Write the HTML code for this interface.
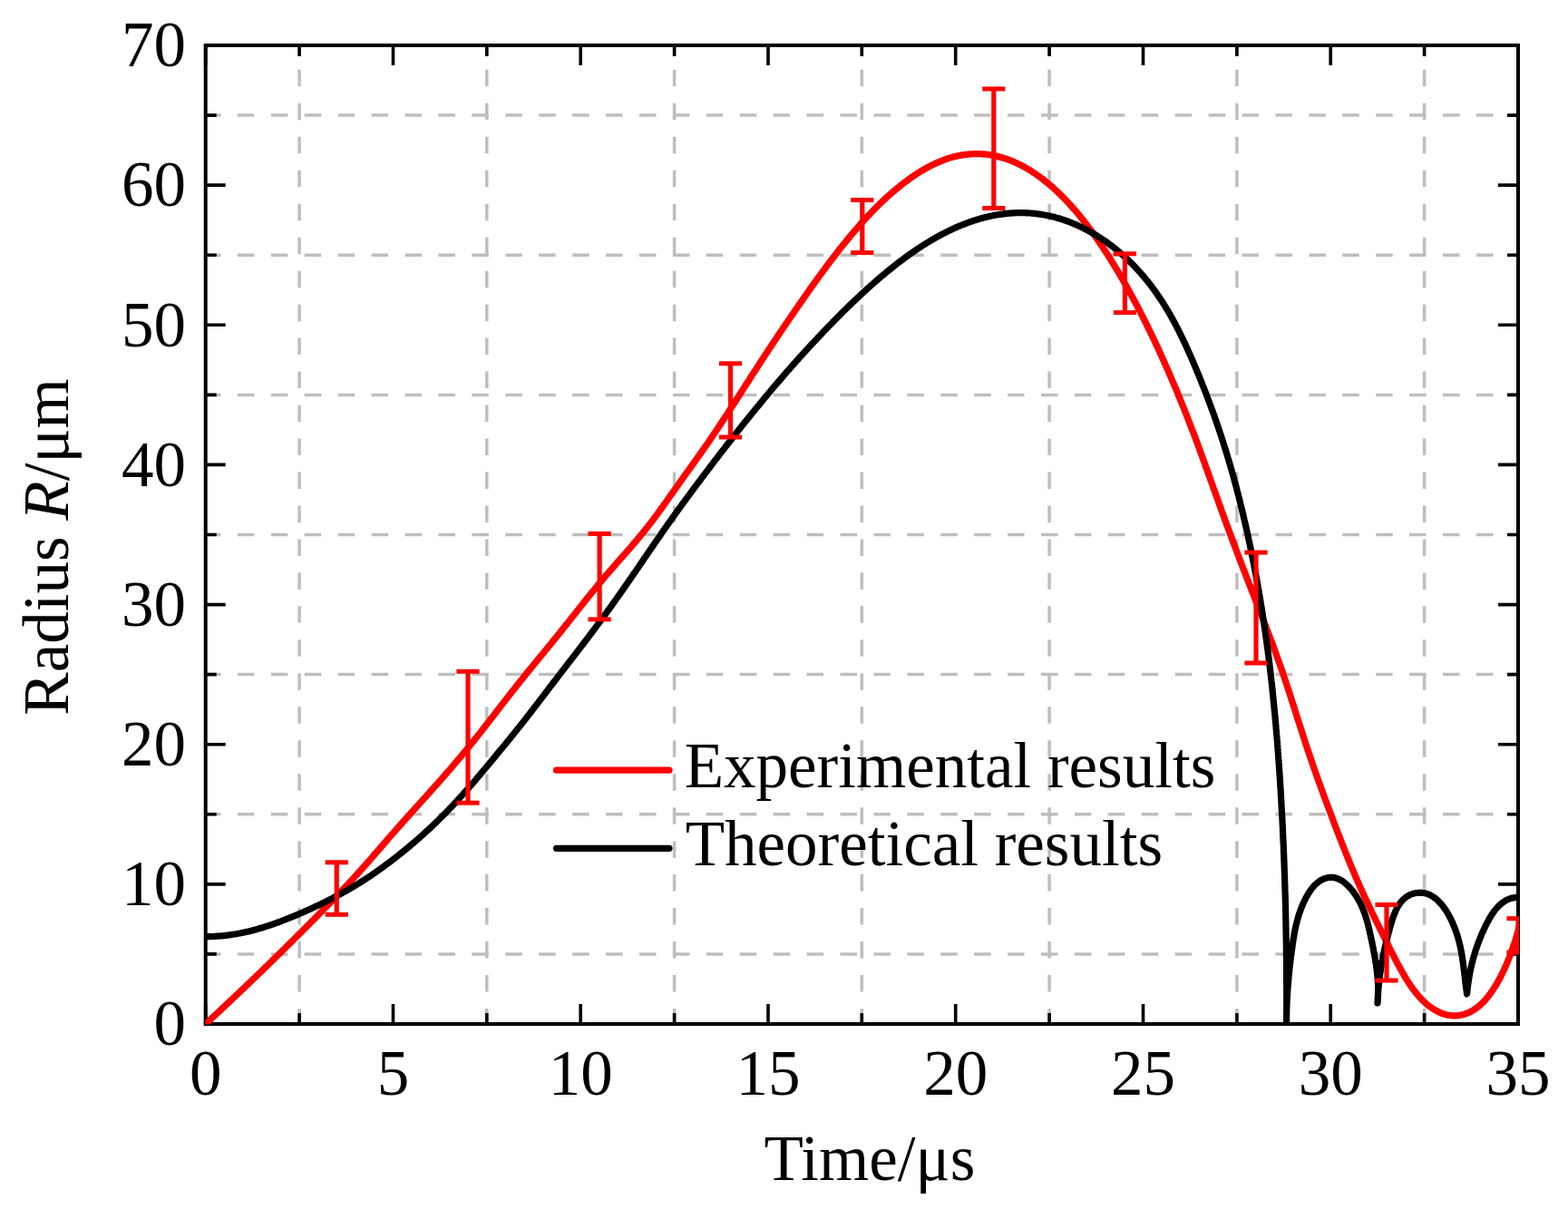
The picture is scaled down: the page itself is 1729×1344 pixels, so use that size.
<!DOCTYPE html>
<html><head><meta charset="utf-8"><style>html,body{margin:0;padding:0;background:#fff;}svg{display:block;}</style></head>
<body><svg width="1729" height="1344" viewBox="0 0 1729 1344">
<rect width="1729" height="1344" fill="#fff"/>
<defs><clipPath id="pc"><rect x="226.2" y="49.5" width="1448.8" height="1080"/></clipPath></defs>
<line x1="225" y1="1051.9" x2="1674.0" y2="1051.9" stroke="#bebebe" stroke-width="3.5" stroke-dasharray="18.5 18.42"/>
<line x1="225" y1="897.8" x2="1674.0" y2="897.8" stroke="#bebebe" stroke-width="3.5" stroke-dasharray="18.5 18.42"/>
<line x1="225" y1="743.6" x2="1674.0" y2="743.6" stroke="#bebebe" stroke-width="3.5" stroke-dasharray="18.5 18.42"/>
<line x1="225" y1="589.5" x2="1674.0" y2="589.5" stroke="#bebebe" stroke-width="3.5" stroke-dasharray="18.5 18.42"/>
<line x1="225" y1="435.4" x2="1674.0" y2="435.4" stroke="#bebebe" stroke-width="3.5" stroke-dasharray="18.5 18.42"/>
<line x1="225" y1="281.2" x2="1674.0" y2="281.2" stroke="#bebebe" stroke-width="3.5" stroke-dasharray="18.5 18.42"/>
<line x1="225" y1="127.1" x2="1674.0" y2="127.1" stroke="#bebebe" stroke-width="3.5" stroke-dasharray="18.5 18.42"/>
<line x1="330.1" y1="1130.5" x2="330.1" y2="50.0" stroke="#bebebe" stroke-width="3.5" stroke-dasharray="18.5 18.47"/>
<line x1="536.8" y1="1130.5" x2="536.8" y2="50.0" stroke="#bebebe" stroke-width="3.5" stroke-dasharray="18.5 18.47"/>
<line x1="743.6" y1="1130.5" x2="743.6" y2="50.0" stroke="#bebebe" stroke-width="3.5" stroke-dasharray="18.5 18.47"/>
<line x1="950.3" y1="1130.5" x2="950.3" y2="50.0" stroke="#bebebe" stroke-width="3.5" stroke-dasharray="18.5 18.47"/>
<line x1="1157.1" y1="1130.5" x2="1157.1" y2="50.0" stroke="#bebebe" stroke-width="3.5" stroke-dasharray="18.5 18.47"/>
<line x1="1363.9" y1="1130.5" x2="1363.9" y2="50.0" stroke="#bebebe" stroke-width="3.5" stroke-dasharray="18.5 18.47"/>
<line x1="1570.6" y1="1130.5" x2="1570.6" y2="50.0" stroke="#bebebe" stroke-width="3.5" stroke-dasharray="18.5 18.47"/>
<rect x="226.7" y="50.0" width="1447.3" height="1079.0" fill="none" stroke="#000" stroke-width="4"/>
<path d="M226.7,1129.0V1107.0M226.7,50.0V72.0M330.1,1129.0V1117.0M330.1,50.0V62.0M433.5,1129.0V1107.0M433.5,50.0V72.0M536.8,1129.0V1117.0M536.8,50.0V62.0M640.2,1129.0V1107.0M640.2,50.0V72.0M743.6,1129.0V1117.0M743.6,50.0V62.0M847.0,1129.0V1107.0M847.0,50.0V72.0M950.3,1129.0V1117.0M950.3,50.0V62.0M1053.7,1129.0V1107.0M1053.7,50.0V72.0M1157.1,1129.0V1117.0M1157.1,50.0V62.0M1260.5,1129.0V1107.0M1260.5,50.0V72.0M1363.9,1129.0V1117.0M1363.9,50.0V62.0M1467.2,1129.0V1107.0M1467.2,50.0V72.0M1570.6,1129.0V1117.0M1570.6,50.0V62.0M1674.0,1129.0V1107.0M1674.0,50.0V72.0M226.7,1129.0H248.7M1674.0,1129.0H1652.0M226.7,1051.9H238.7M1674.0,1051.9H1662.0M226.7,974.9H248.7M1674.0,974.9H1652.0M226.7,897.8H238.7M1674.0,897.8H1662.0M226.7,820.7H248.7M1674.0,820.7H1652.0M226.7,743.6H238.7M1674.0,743.6H1662.0M226.7,666.6H248.7M1674.0,666.6H1652.0M226.7,589.5H238.7M1674.0,589.5H1662.0M226.7,512.4H248.7M1674.0,512.4H1652.0M226.7,435.4H238.7M1674.0,435.4H1662.0M226.7,358.3H248.7M1674.0,358.3H1652.0M226.7,281.2H238.7M1674.0,281.2H1662.0M226.7,204.1H248.7M1674.0,204.1H1652.0M226.7,127.1H238.7M1674.0,127.1H1662.0M226.7,50.0H248.7M1674.0,50.0H1652.0" stroke="#000" stroke-width="3.6" fill="none"/>
<g clip-path="url(#pc)" fill="none" stroke-linejoin="round" stroke-linecap="butt">
<path d="M220.8,1134.4 L226.7,1129.0 L228.2,1127.6 L229.6,1126.3 L231.1,1124.9 L232.6,1123.5 L234.0,1122.2 L235.5,1120.8 L237.0,1119.5 L238.4,1118.1 L239.9,1116.7 L241.4,1115.4 L242.8,1114.0 L244.3,1112.6 L245.7,1111.2 L247.2,1109.9 L248.7,1108.5 L250.1,1107.1 L251.6,1105.8 L253.0,1104.4 L254.5,1103.0 L256.0,1101.6 L257.4,1100.3 L258.9,1098.9 L260.3,1097.5 L261.8,1096.1 L263.2,1094.8 L264.7,1093.4 L266.1,1092.0 L267.6,1090.6 L269.0,1089.3 L270.5,1087.9 L271.9,1086.5 L273.4,1085.1 L274.8,1083.7 L276.3,1082.3 L277.7,1081.0 L279.1,1079.6 L280.6,1078.2 L282.0,1076.8 L283.5,1075.4 L284.9,1074.0 L286.4,1072.6 L287.8,1071.3 L289.2,1069.9 L290.7,1068.5 L292.1,1067.1 L293.5,1065.7 L295.0,1064.3 L296.4,1062.9 L297.8,1061.5 L299.3,1060.1 L300.7,1058.7 L302.1,1057.3 L303.6,1055.9 L305.0,1054.5 L306.4,1053.1 L307.9,1051.7 L309.3,1050.3 L310.7,1048.9 L312.1,1047.5 L313.6,1046.1 L315.0,1044.7 L316.4,1043.3 L317.8,1041.9 L319.3,1040.5 L320.7,1039.1 L322.1,1037.7 L323.5,1036.3 L324.9,1034.8 L326.4,1033.4 L327.8,1032.0 L329.2,1030.6 L330.6,1029.2 L332.0,1027.8 L333.4,1026.4 L334.9,1024.9 L336.3,1023.5 L337.7,1022.1 L339.1,1020.7 L340.5,1019.3 L341.9,1017.8 L343.3,1016.4 L344.7,1015.0 L346.2,1013.6 L347.6,1012.2 L349.0,1010.7 L350.4,1009.3 L351.8,1007.9 L353.2,1006.5 L354.6,1005.0 L356.0,1003.6 L357.4,1002.2 L358.8,1000.7 L360.2,999.3 L361.6,997.9 L363.0,996.4 L364.4,995.0 L365.8,993.6 L367.2,992.1 L368.6,990.7 L370.0,989.3 L371.4,987.8 L372.7,986.4 L374.1,984.9 L375.5,983.5 L376.9,982.0 L378.3,980.6 L379.6,979.1 L381.0,977.7 L382.4,976.2 L383.8,974.7 L385.1,973.3 L386.5,971.8 L387.9,970.3 L389.2,968.9 L390.6,967.4 L391.9,965.9 L393.3,964.5 L394.6,963.0 L395.9,961.5 L397.3,960.0 L398.6,958.5 L400.0,957.0 L401.3,955.5 L402.6,954.1 L403.9,952.6 L405.3,951.1 L406.6,949.6 L407.9,948.1 L409.2,946.6 L410.5,945.1 L411.8,943.5 L413.1,942.0 L414.4,940.5 L415.8,939.0 L417.1,937.5 L418.4,936.0 L419.7,934.5 L421.0,933.0 L422.3,931.5 L423.6,930.0 L424.9,928.5 L426.2,927.0 L427.5,925.5 L428.8,923.9 L430.1,922.4 L431.4,920.9 L432.7,919.4 L434.1,917.9 L435.4,916.4 L436.7,914.9 L438.0,913.4 L439.3,912.0 L440.6,910.5 L442.0,909.0 L443.3,907.5 L444.6,906.0 L446.0,904.5 L447.3,903.0 L448.6,901.5 L450.0,900.1 L451.3,898.6 L452.6,897.1 L454.0,895.6 L455.3,894.1 L456.6,892.6 L458.0,891.2 L459.3,889.7 L460.6,888.2 L462.0,886.7 L463.3,885.2 L464.7,883.7 L466.0,882.2 L467.3,880.8 L468.7,879.3 L470.0,877.8 L471.3,876.3 L472.7,874.8 L474.0,873.3 L475.3,871.8 L476.7,870.3 L478.0,868.8 L479.3,867.3 L480.7,865.8 L482.0,864.4 L483.3,862.9 L484.6,861.4 L486.0,859.9 L487.3,858.4 L488.6,856.8 L489.9,855.3 L491.2,853.8 L492.6,852.3 L493.9,850.8 L495.2,849.3 L496.5,847.8 L497.8,846.3 L499.1,844.8 L500.4,843.2 L501.7,841.7 L503.0,840.2 L504.3,838.7 L505.6,837.1 L506.9,835.6 L508.2,834.1 L509.5,832.5 L510.7,831.0 L512.0,829.5 L513.3,827.9 L514.6,826.4 L515.8,824.8 L517.1,823.3 L518.4,821.7 L519.6,820.2 L520.9,818.6 L522.1,817.1 L523.4,815.5 L524.6,813.9 L525.9,812.4 L527.1,810.8 L528.4,809.2 L529.6,807.7 L530.9,806.1 L532.1,804.5 L533.3,802.9 L534.6,801.4 L535.8,799.8 L537.0,798.2 L538.2,796.6 L539.5,795.0 L540.7,793.4 L541.9,791.9 L543.2,790.3 L544.4,788.7 L545.6,787.1 L546.8,785.5 L548.0,783.9 L549.3,782.4 L550.5,780.8 L551.7,779.2 L552.9,777.6 L554.2,776.0 L555.4,774.4 L556.6,772.9 L557.9,771.3 L559.1,769.7 L560.3,768.1 L561.5,766.5 L562.8,765.0 L564.0,763.4 L565.3,761.8 L566.5,760.2 L567.7,758.7 L569.0,757.1 L570.2,755.5 L571.5,754.0 L572.7,752.4 L574.0,750.8 L575.2,749.3 L576.5,747.7 L577.7,746.2 L579.0,744.6 L580.2,743.0 L581.5,741.5 L582.8,739.9 L584.0,738.4 L585.3,736.8 L586.6,735.3 L587.8,733.7 L589.1,732.2 L590.4,730.6 L591.6,729.1 L592.9,727.5 L594.2,726.0 L595.4,724.4 L596.7,722.9 L598.0,721.3 L599.3,719.8 L600.5,718.2 L601.8,716.7 L603.1,715.2 L604.3,713.6 L605.6,712.1 L606.9,710.5 L608.1,709.0 L609.4,707.4 L610.7,705.8 L611.9,704.3 L613.2,702.7 L614.4,701.2 L615.7,699.6 L617.0,698.1 L618.2,696.5 L619.5,694.9 L620.7,693.4 L622.0,691.8 L623.2,690.2 L624.5,688.7 L625.7,687.1 L627.0,685.5 L628.2,684.0 L629.4,682.4 L630.7,680.8 L631.9,679.3 L633.2,677.7 L634.4,676.1 L635.7,674.6 L636.9,673.0 L638.1,671.4 L639.4,669.8 L640.6,668.3 L641.9,666.7 L643.1,665.1 L644.4,663.6 L645.6,662.0 L646.9,660.4 L648.1,658.9 L649.4,657.3 L650.6,655.8 L651.9,654.2 L653.2,652.7 L654.4,651.1 L655.7,649.6 L657.0,648.0 L658.2,646.5 L659.5,644.9 L660.8,643.4 L662.1,641.8 L663.4,640.3 L664.6,638.8 L665.9,637.3 L667.2,635.7 L668.5,634.2 L669.8,632.7 L671.1,631.2 L672.4,629.7 L673.8,628.1 L675.1,626.6 L676.4,625.1 L677.7,623.6 L679.0,622.1 L680.3,620.6 L681.7,619.1 L683.0,617.6 L684.3,616.1 L685.6,614.6 L687.0,613.1 L688.3,611.6 L689.6,610.1 L690.9,608.6 L692.2,607.1 L693.6,605.6 L694.9,604.1 L696.2,602.5 L697.5,601.0 L698.8,599.5 L700.1,598.0 L701.4,596.5 L702.7,594.9 L704.0,593.4 L705.2,591.9 L706.5,590.3 L707.8,588.8 L709.0,587.2 L710.3,585.7 L711.5,584.1 L712.8,582.6 L714.0,581.0 L715.2,579.4 L716.5,577.8 L717.7,576.3 L718.9,574.7 L720.1,573.1 L721.3,571.5 L722.5,569.9 L723.7,568.3 L724.9,566.7 L726.1,565.0 L727.2,563.4 L728.4,561.8 L729.6,560.2 L730.7,558.6 L731.9,556.9 L733.1,555.3 L734.2,553.7 L735.4,552.0 L736.5,550.4 L737.7,548.8 L738.8,547.1 L740.0,545.5 L741.2,543.9 L742.3,542.2 L743.5,540.6 L744.6,539.0 L745.8,537.3 L746.9,535.7 L748.1,534.1 L749.3,532.4 L750.4,530.8 L751.6,529.2 L752.8,527.5 L753.9,525.9 L755.1,524.3 L756.2,522.6 L757.4,521.0 L758.6,519.4 L759.7,517.8 L760.9,516.1 L762.1,514.5 L763.2,512.9 L764.4,511.2 L765.6,509.6 L766.7,508.0 L767.9,506.4 L769.1,504.7 L770.2,503.1 L771.4,501.5 L772.5,499.8 L773.7,498.2 L774.8,496.6 L776.0,494.9 L777.1,493.3 L778.3,491.6 L779.4,490.0 L780.6,488.3 L781.7,486.7 L782.8,485.0 L783.9,483.4 L785.1,481.7 L786.2,480.1 L787.3,478.4 L788.4,476.8 L789.6,475.1 L790.7,473.4 L791.8,471.8 L792.9,470.1 L794.0,468.4 L795.1,466.8 L796.2,465.1 L797.3,463.4 L798.4,461.8 L799.5,460.1 L800.6,458.4 L801.7,456.7 L802.8,455.0 L803.9,453.4 L804.9,451.7 L806.0,450.0 L807.1,448.3 L808.2,446.6 L809.3,445.0 L810.4,443.3 L811.4,441.6 L812.5,439.9 L813.6,438.2 L814.7,436.5 L815.8,434.8 L816.8,433.2 L817.9,431.5 L819.0,429.8 L820.1,428.1 L821.2,426.4 L822.2,424.7 L823.3,423.0 L824.4,421.4 L825.5,419.7 L826.6,418.0 L827.7,416.3 L828.7,414.6 L829.8,412.9 L830.9,411.3 L832.0,409.6 L833.1,407.9 L834.2,406.2 L835.3,404.5 L836.3,402.9 L837.4,401.2 L838.5,399.5 L839.6,397.8 L840.7,396.1 L841.8,394.5 L842.9,392.8 L844.0,391.1 L845.1,389.4 L846.2,387.8 L847.3,386.1 L848.4,384.4 L849.5,382.8 L850.6,381.1 L851.7,379.4 L852.8,377.8 L853.9,376.1 L855.1,374.4 L856.2,372.8 L857.3,371.1 L858.4,369.4 L859.5,367.8 L860.6,366.1 L861.7,364.4 L862.9,362.8 L864.0,361.1 L865.1,359.5 L866.2,357.8 L867.4,356.1 L868.5,354.5 L869.6,352.8 L870.7,351.2 L871.9,349.5 L873.0,347.9 L874.1,346.2 L875.3,344.6 L876.4,342.9 L877.5,341.3 L878.7,339.6 L879.8,338.0 L880.9,336.3 L882.1,334.7 L883.2,333.0 L884.4,331.4 L885.5,329.7 L886.7,328.1 L887.8,326.4 L889.0,324.8 L890.1,323.2 L891.3,321.5 L892.4,319.9 L893.6,318.3 L894.7,316.6 L895.9,315.0 L897.1,313.4 L898.2,311.7 L899.4,310.1 L900.6,308.5 L901.7,306.9 L902.9,305.2 L904.1,303.6 L905.3,302.0 L906.5,300.4 L907.7,298.8 L908.8,297.2 L910.0,295.6 L911.2,294.0 L912.4,292.4 L913.6,290.8 L914.8,289.2 L916.0,287.6 L917.2,286.0 L918.5,284.4 L919.7,282.8 L920.9,281.2 L922.1,279.7 L923.3,278.1 L924.6,276.5 L925.8,274.9 L927.0,273.4 L928.3,271.8 L929.5,270.2 L930.8,268.7 L932.0,267.1 L933.3,265.6 L934.5,264.0 L935.8,262.5 L937.1,261.0 L938.3,259.4 L939.6,257.9 L940.9,256.4 L942.2,254.8 L943.5,253.3 L944.8,251.8 L946.1,250.3 L947.4,248.8 L948.7,247.3 L950.1,245.8 L951.4,244.3 L952.7,242.8 L954.1,241.3 L955.4,239.8 L956.8,238.4 L958.2,236.9 L959.6,235.4 L961.0,234.0 L962.4,232.5 L963.8,231.1 L965.2,229.7 L966.6,228.2 L968.0,226.8 L969.5,225.4 L970.9,224.0 L972.4,222.6 L973.9,221.2 L975.3,219.8 L976.8,218.4 L978.3,217.1 L979.8,215.7 L981.3,214.4 L982.9,213.0 L984.4,211.7 L986.0,210.4 L987.5,209.1 L989.1,207.8 L990.7,206.5 L992.3,205.2 L993.9,203.9 L995.5,202.7 L997.1,201.4 L998.7,200.2 L1000.4,199.0 L1002.0,197.8 L1003.7,196.6 L1005.3,195.4 L1007.0,194.3 L1008.7,193.1 L1010.4,192.0 L1012.1,190.9 L1013.8,189.8 L1015.6,188.7 L1017.3,187.7 L1019.1,186.7 L1020.8,185.7 L1022.6,184.7 L1024.4,183.7 L1026.2,182.8 L1028.0,181.9 L1029.8,181.0 L1031.6,180.2 L1033.4,179.4 L1035.3,178.6 L1037.1,177.8 L1039.0,177.1 L1040.8,176.3 L1042.7,175.7 L1044.6,175.0 L1046.4,174.4 L1048.3,173.8 L1050.2,173.3 L1052.1,172.8 L1054.0,172.3 L1056.0,171.9 L1057.9,171.5 L1059.8,171.1 L1061.7,170.8 L1063.7,170.5 L1065.6,170.3 L1067.6,170.1 L1069.5,169.9 L1071.5,169.8 L1073.4,169.7 L1075.3,169.7 L1077.3,169.6 L1079.2,169.7 L1081.2,169.7 L1083.1,169.9 L1085.1,170.0 L1087.0,170.2 L1089.0,170.4 L1090.9,170.7 L1092.8,171.0 L1094.8,171.3 L1096.7,171.7 L1098.6,172.1 L1100.5,172.6 L1102.4,173.1 L1104.3,173.6 L1106.2,174.2 L1108.1,174.7 L1110.0,175.4 L1111.8,176.0 L1113.7,176.7 L1115.6,177.5 L1117.4,178.2 L1119.2,179.0 L1121.0,179.8 L1122.8,180.7 L1124.6,181.6 L1126.4,182.5 L1128.2,183.4 L1130.0,184.4 L1131.7,185.4 L1133.5,186.4 L1135.2,187.4 L1136.9,188.5 L1138.6,189.6 L1140.3,190.7 L1142.0,191.8 L1143.6,193.0 L1145.3,194.2 L1146.9,195.4 L1148.5,196.6 L1150.2,197.8 L1151.8,199.1 L1153.3,200.3 L1154.9,201.6 L1156.5,202.9 L1158.0,204.2 L1159.6,205.6 L1161.1,206.9 L1162.6,208.3 L1164.1,209.7 L1165.6,211.0 L1167.1,212.4 L1168.5,213.9 L1170.0,215.3 L1171.4,216.7 L1172.8,218.2 L1174.3,219.6 L1175.7,221.1 L1177.0,222.6 L1178.4,224.1 L1179.8,225.5 L1181.2,227.1 L1182.5,228.6 L1183.8,230.1 L1185.2,231.6 L1186.5,233.1 L1187.8,234.7 L1189.1,236.2 L1190.4,237.8 L1191.6,239.4 L1192.9,240.9 L1194.2,242.5 L1195.4,244.1 L1196.7,245.7 L1197.9,247.3 L1199.1,248.9 L1200.3,250.5 L1201.5,252.1 L1202.7,253.7 L1203.9,255.3 L1205.1,256.9 L1206.3,258.6 L1207.4,260.2 L1208.6,261.8 L1209.7,263.5 L1210.9,265.1 L1212.0,266.8 L1213.1,268.4 L1214.2,270.1 L1215.4,271.7 L1216.5,273.4 L1217.6,275.1 L1218.7,276.7 L1219.8,278.4 L1220.8,280.1 L1221.9,281.8 L1223.0,283.5 L1224.1,285.2 L1225.1,286.9 L1226.2,288.6 L1227.2,290.3 L1228.3,292.0 L1229.3,293.7 L1230.3,295.4 L1231.4,297.1 L1232.4,298.8 L1233.4,300.5 L1234.4,302.3 L1235.4,304.0 L1236.5,305.7 L1237.5,307.5 L1238.5,309.2 L1239.4,310.9 L1240.4,312.7 L1241.4,314.4 L1242.4,316.2 L1243.4,317.9 L1244.4,319.6 L1245.3,321.4 L1246.3,323.2 L1247.2,324.9 L1248.2,326.7 L1249.2,328.4 L1250.1,330.2 L1251.0,332.0 L1252.0,333.7 L1252.9,335.5 L1253.9,337.3 L1254.8,339.0 L1255.7,340.8 L1256.6,342.6 L1257.6,344.4 L1258.5,346.2 L1259.4,347.9 L1260.3,349.7 L1261.2,351.5 L1262.1,353.3 L1263.0,355.1 L1263.9,356.9 L1264.8,358.7 L1265.6,360.5 L1266.5,362.3 L1267.4,364.1 L1268.3,365.9 L1269.2,367.7 L1270.0,369.5 L1270.9,371.3 L1271.7,373.1 L1272.6,374.9 L1273.5,376.7 L1274.3,378.5 L1275.2,380.4 L1276.0,382.2 L1276.9,384.0 L1277.7,385.8 L1278.5,387.6 L1279.4,389.5 L1280.2,391.3 L1281.0,393.1 L1281.9,394.9 L1282.7,396.8 L1283.5,398.6 L1284.3,400.4 L1285.1,402.2 L1285.9,404.1 L1286.7,405.9 L1287.6,407.7 L1288.4,409.6 L1289.2,411.4 L1290.0,413.2 L1290.8,415.1 L1291.5,416.9 L1292.3,418.8 L1293.1,420.6 L1293.9,422.4 L1294.7,424.3 L1295.5,426.1 L1296.2,428.0 L1297.0,429.8 L1297.8,431.7 L1298.6,433.5 L1299.3,435.4 L1300.1,437.2 L1300.9,439.1 L1301.6,440.9 L1302.4,442.8 L1303.1,444.6 L1303.9,446.5 L1304.6,448.3 L1305.4,450.2 L1306.1,452.1 L1306.8,453.9 L1307.6,455.8 L1308.3,457.6 L1309.1,459.5 L1309.8,461.4 L1310.5,463.2 L1311.2,465.1 L1312.0,467.0 L1312.7,468.8 L1313.4,470.7 L1314.1,472.6 L1314.8,474.4 L1315.6,476.3 L1316.3,478.2 L1317.0,480.1 L1317.7,481.9 L1318.4,483.8 L1319.1,485.7 L1319.8,487.6 L1320.5,489.4 L1321.2,491.3 L1321.9,493.2 L1322.6,495.1 L1323.3,496.9 L1323.9,498.8 L1324.6,500.7 L1325.3,502.6 L1326.0,504.5 L1326.7,506.3 L1327.4,508.2 L1328.1,510.1 L1328.7,512.0 L1329.4,513.9 L1330.1,515.8 L1330.8,517.6 L1331.5,519.5 L1332.1,521.4 L1332.8,523.3 L1333.5,525.2 L1334.2,527.1 L1334.8,528.9 L1335.5,530.8 L1336.2,532.7 L1336.9,534.6 L1337.5,536.5 L1338.2,538.4 L1338.9,540.3 L1339.6,542.1 L1340.2,544.0 L1340.9,545.9 L1341.6,547.8 L1342.3,549.7 L1343.0,551.6 L1343.6,553.4 L1344.3,555.3 L1345.0,557.2 L1345.7,559.1 L1346.3,561.0 L1347.0,562.9 L1347.7,564.7 L1348.4,566.6 L1349.1,568.5 L1349.8,570.4 L1350.4,572.3 L1351.1,574.2 L1351.8,576.0 L1352.5,577.9 L1353.2,579.8 L1353.9,581.7 L1354.6,583.6 L1355.3,585.4 L1356.0,587.3 L1356.7,589.2 L1357.4,591.1 L1358.1,592.9 L1358.7,594.8 L1359.4,596.7 L1360.1,598.6 L1360.9,600.4 L1361.6,602.3 L1362.3,604.2 L1363.0,606.1 L1363.7,607.9 L1364.4,609.8 L1365.1,611.7 L1365.8,613.6 L1366.5,615.4 L1367.2,617.3 L1367.9,619.2 L1368.7,621.0 L1369.4,622.9 L1370.1,624.8 L1370.8,626.6 L1371.5,628.5 L1372.3,630.4 L1373.0,632.2 L1373.7,634.1 L1374.4,636.0 L1375.1,637.8 L1375.9,639.7 L1376.6,641.6 L1377.3,643.4 L1378.1,645.3 L1378.8,647.2 L1379.5,649.0 L1380.2,650.9 L1381.0,652.8 L1381.7,654.6 L1382.4,656.5 L1383.2,658.4 L1383.9,660.2 L1384.6,662.1 L1385.3,663.9 L1386.1,665.8 L1386.8,667.7 L1387.5,669.5 L1388.3,671.4 L1389.0,673.3 L1389.7,675.1 L1390.4,677.0 L1391.2,678.9 L1391.9,680.7 L1392.6,682.6 L1393.3,684.5 L1394.1,686.3 L1394.8,688.2 L1395.5,690.1 L1396.2,691.9 L1396.9,693.8 L1397.7,695.7 L1398.4,697.5 L1399.1,699.4 L1399.8,701.3 L1400.5,703.1 L1401.2,705.0 L1401.9,706.9 L1402.6,708.8 L1403.3,710.6 L1404.0,712.5 L1404.7,714.4 L1405.4,716.3 L1406.1,718.1 L1406.8,720.0 L1407.4,721.9 L1408.1,723.8 L1408.8,725.7 L1409.5,727.5 L1410.1,729.4 L1410.8,731.3 L1411.5,733.2 L1412.1,735.1 L1412.8,737.0 L1413.4,738.9 L1414.1,740.7 L1414.7,742.6 L1415.4,744.5 L1416.0,746.4 L1416.6,748.3 L1417.3,750.2 L1417.9,752.1 L1418.5,754.0 L1419.2,755.9 L1419.8,757.8 L1420.4,759.7 L1421.0,761.6 L1421.7,763.5 L1422.3,765.4 L1422.9,767.3 L1423.5,769.2 L1424.1,771.1 L1424.7,773.0 L1425.3,774.9 L1425.9,776.8 L1426.6,778.7 L1427.2,780.7 L1427.8,782.6 L1428.4,784.5 L1429.0,786.4 L1429.6,788.3 L1430.2,790.2 L1430.8,792.1 L1431.4,794.0 L1432.0,795.9 L1432.6,797.8 L1433.2,799.7 L1433.8,801.6 L1434.5,803.5 L1435.1,805.4 L1435.7,807.3 L1436.3,809.2 L1436.9,811.1 L1437.5,813.1 L1438.2,815.0 L1438.8,816.9 L1439.4,818.8 L1440.0,820.7 L1440.7,822.6 L1441.3,824.5 L1441.9,826.4 L1442.6,828.3 L1443.2,830.2 L1443.8,832.1 L1444.5,833.9 L1445.1,835.8 L1445.8,837.7 L1446.4,839.6 L1447.1,841.5 L1447.7,843.4 L1448.4,845.3 L1449.0,847.2 L1449.7,849.1 L1450.4,851.0 L1451.0,852.9 L1451.7,854.8 L1452.4,856.7 L1453.0,858.5 L1453.7,860.4 L1454.4,862.3 L1455.1,864.2 L1455.8,866.1 L1456.4,868.0 L1457.1,869.9 L1457.8,871.7 L1458.5,873.6 L1459.2,875.5 L1459.9,877.4 L1460.6,879.3 L1461.3,881.2 L1462.0,883.0 L1462.7,884.9 L1463.4,886.8 L1464.1,888.7 L1464.8,890.6 L1465.5,892.4 L1466.2,894.3 L1466.9,896.2 L1467.6,898.1 L1468.3,899.9 L1469.0,901.8 L1469.7,903.7 L1470.4,905.6 L1471.1,907.5 L1471.8,909.3 L1472.6,911.2 L1473.3,913.1 L1474.0,914.9 L1474.7,916.8 L1475.4,918.7 L1476.2,920.6 L1476.9,922.4 L1477.6,924.3 L1478.3,926.2 L1479.1,928.0 L1479.8,929.9 L1480.5,931.8 L1481.3,933.6 L1482.0,935.5 L1482.7,937.3 L1483.5,939.2 L1484.2,941.0 L1485.0,942.9 L1485.7,944.8 L1486.5,946.6 L1487.2,948.4 L1488.0,950.3 L1488.7,952.1 L1489.5,954.0 L1490.3,955.8 L1491.0,957.7 L1491.8,959.5 L1492.6,961.3 L1493.4,963.2 L1494.1,965.0 L1494.9,966.8 L1495.7,968.6 L1496.5,970.5 L1497.3,972.3 L1498.1,974.1 L1498.9,975.9 L1499.7,977.7 L1500.5,979.5 L1501.3,981.3 L1502.1,983.1 L1503.0,984.9 L1503.8,986.7 L1504.6,988.5 L1505.5,990.3 L1506.3,992.1 L1507.1,993.9 L1508.0,995.7 L1508.8,997.5 L1509.7,999.3 L1510.5,1001.0 L1511.4,1002.8 L1512.2,1004.6 L1513.1,1006.4 L1513.9,1008.2 L1514.8,1009.9 L1515.7,1011.7 L1516.6,1013.5 L1517.4,1015.3 L1518.3,1017.1 L1519.2,1018.8 L1520.0,1020.6 L1520.9,1022.4 L1521.8,1024.2 L1522.7,1026.0 L1523.6,1027.7 L1524.5,1029.5 L1525.3,1031.3 L1526.2,1033.1 L1527.1,1034.9 L1528.0,1036.7 L1528.9,1038.5 L1529.8,1040.3 L1530.7,1042.0 L1531.6,1043.8 L1532.5,1045.6 L1533.4,1047.5 L1534.3,1049.3 L1535.2,1051.1 L1536.2,1052.9 L1537.1,1054.7 L1538.0,1056.5 L1538.9,1058.3 L1539.9,1060.1 L1540.8,1061.9 L1541.8,1063.7 L1542.8,1065.5 L1543.7,1067.3 L1544.7,1069.1 L1545.7,1070.9 L1546.8,1072.7 L1547.8,1074.5 L1548.8,1076.3 L1549.9,1078.1 L1551.0,1079.9 L1552.1,1081.6 L1553.2,1083.4 L1554.4,1085.1 L1555.5,1086.8 L1556.7,1088.5 L1557.9,1090.2 L1559.2,1091.9 L1560.4,1093.5 L1561.7,1095.1 L1563.0,1096.7 L1564.4,1098.3 L1565.7,1099.8 L1567.1,1101.3 L1568.5,1102.8 L1570.0,1104.2 L1571.5,1105.6 L1573.0,1106.9 L1574.5,1108.2 L1576.0,1109.4 L1577.6,1110.6 L1579.2,1111.7 L1580.9,1112.7 L1582.5,1113.7 L1584.2,1114.6 L1585.9,1115.5 L1587.6,1116.3 L1589.3,1117.0 L1591.0,1117.6 L1592.8,1118.2 L1594.5,1118.7 L1596.3,1119.1 L1598.1,1119.4 L1599.9,1119.6 L1601.7,1119.8 L1603.4,1119.9 L1605.2,1119.8 L1607.0,1119.7 L1608.8,1119.5 L1610.5,1119.3 L1612.3,1118.9 L1614.0,1118.5 L1615.7,1117.9 L1617.4,1117.3 L1619.1,1116.6 L1620.8,1115.9 L1622.4,1115.0 L1624.0,1114.1 L1625.6,1113.1 L1627.2,1112.0 L1628.7,1110.9 L1630.2,1109.7 L1631.7,1108.4 L1633.2,1107.1 L1634.6,1105.8 L1636.0,1104.3 L1637.4,1102.9 L1638.7,1101.3 L1640.0,1099.8 L1641.3,1098.2 L1642.6,1096.5 L1643.8,1094.8 L1645.0,1093.1 L1646.2,1091.4 L1647.4,1089.6 L1648.5,1087.8 L1649.6,1086.0 L1650.7,1084.2 L1651.7,1082.3 L1652.8,1080.5 L1653.8,1078.6 L1654.8,1076.7 L1655.7,1074.8 L1656.7,1072.9 L1657.6,1071.0 L1658.5,1069.1 L1659.4,1067.1 L1660.3,1065.2 L1661.1,1063.3 L1661.9,1061.3 L1662.7,1059.4 L1663.5,1057.5 L1664.3,1055.5 L1665.0,1053.6 L1665.8,1051.7 L1666.5,1049.8 L1667.2,1047.9 L1667.8,1046.0 L1668.5,1044.0 L1669.1,1042.1 L1669.8,1040.2 L1670.4,1038.4 L1671.0,1036.5 L1671.6,1034.6 L1672.1,1032.7 L1672.7,1030.9 L1673.2,1029.0 L1673.7,1027.2 L1674.2,1025.3 L1674.7,1023.5 L1675.1,1021.6 L1675.6,1019.8 L1676.0,1018.0 L1677.4,1012.2" stroke="#ff0000" stroke-width="7.3"/>
<path d="M226.7,1032.6 L228.7,1032.6 L230.7,1032.6 L232.7,1032.5 L234.7,1032.5 L236.7,1032.4 L238.7,1032.2 L240.7,1032.1 L242.7,1032.0 L244.7,1031.8 L246.7,1031.6 L248.7,1031.4 L250.6,1031.1 L252.6,1030.9 L254.6,1030.6 L256.5,1030.3 L258.5,1030.0 L260.5,1029.7 L262.4,1029.3 L264.4,1029.0 L266.3,1028.6 L268.2,1028.2 L270.2,1027.8 L272.1,1027.3 L274.0,1026.9 L276.0,1026.4 L277.9,1025.9 L279.8,1025.4 L281.7,1024.9 L283.7,1024.4 L285.6,1023.8 L287.5,1023.3 L289.4,1022.7 L291.3,1022.1 L293.2,1021.5 L295.1,1020.9 L297.0,1020.3 L298.9,1019.6 L300.8,1019.0 L302.7,1018.3 L304.5,1017.7 L306.4,1017.0 L308.3,1016.3 L310.2,1015.6 L312.0,1014.9 L313.9,1014.1 L315.8,1013.4 L317.6,1012.7 L319.5,1011.9 L321.4,1011.2 L323.2,1010.4 L325.1,1009.6 L326.9,1008.9 L328.8,1008.1 L330.6,1007.3 L332.5,1006.5 L334.3,1005.7 L336.2,1004.9 L338.0,1004.1 L339.8,1003.2 L341.7,1002.4 L343.5,1001.6 L345.3,1000.7 L347.1,999.9 L348.9,999.0 L350.8,998.2 L352.6,997.3 L354.4,996.4 L356.2,995.6 L358.0,994.7 L359.8,993.8 L361.6,992.9 L363.3,992.0 L365.1,991.1 L366.9,990.2 L368.7,989.2 L370.5,988.3 L372.2,987.4 L374.0,986.4 L375.7,985.5 L377.5,984.5 L379.2,983.5 L381.0,982.6 L382.7,981.6 L384.4,980.6 L386.2,979.6 L387.9,978.6 L389.6,977.6 L391.3,976.6 L393.0,975.5 L394.7,974.5 L396.4,973.4 L398.1,972.4 L399.8,971.3 L401.5,970.2 L403.1,969.2 L404.8,968.1 L406.5,967.0 L408.1,965.9 L409.8,964.8 L411.4,963.6 L413.1,962.5 L414.7,961.4 L416.3,960.2 L418.0,959.1 L419.6,957.9 L421.2,956.8 L422.8,955.6 L424.4,954.4 L426.0,953.2 L427.6,952.0 L429.2,950.8 L430.8,949.6 L432.4,948.4 L434.0,947.2 L435.6,946.0 L437.2,944.7 L438.7,943.5 L440.3,942.2 L441.9,941.0 L443.4,939.7 L445.0,938.5 L446.5,937.2 L448.1,935.9 L449.6,934.7 L451.1,933.4 L452.7,932.1 L454.2,930.8 L455.7,929.5 L457.2,928.2 L458.8,926.9 L460.3,925.6 L461.8,924.3 L463.3,922.9 L464.8,921.6 L466.3,920.3 L467.8,918.9 L469.2,917.6 L470.7,916.2 L472.2,914.9 L473.7,913.5 L475.1,912.2 L476.6,910.8 L478.0,909.4 L479.5,908.0 L480.9,906.6 L482.4,905.2 L483.8,903.8 L485.2,902.4 L486.6,901.0 L488.0,899.6 L489.5,898.2 L490.9,896.8 L492.3,895.3 L493.7,893.9 L495.0,892.5 L496.4,891.0 L497.8,889.6 L499.2,888.1 L500.5,886.7 L501.9,885.2 L503.3,883.7 L504.6,882.3 L506.0,880.8 L507.3,879.3 L508.7,877.8 L510.0,876.3 L511.3,874.8 L512.7,873.3 L514.0,871.8 L515.3,870.3 L516.6,868.8 L517.9,867.3 L519.3,865.8 L520.6,864.3 L521.9,862.8 L523.2,861.3 L524.5,859.8 L525.8,858.2 L527.1,856.7 L528.4,855.2 L529.6,853.7 L530.9,852.1 L532.2,850.6 L533.5,849.1 L534.8,847.5 L536.1,846.0 L537.4,844.5 L538.6,843.0 L539.9,841.4 L541.2,839.9 L542.5,838.4 L543.7,836.8 L545.0,835.3 L546.3,833.7 L547.5,832.2 L548.8,830.7 L550.1,829.1 L551.3,827.6 L552.6,826.1 L553.9,824.5 L555.1,823.0 L556.4,821.5 L557.7,819.9 L558.9,818.4 L560.2,816.9 L561.4,815.3 L562.7,813.8 L563.9,812.2 L565.2,810.7 L566.4,809.2 L567.6,807.6 L568.9,806.1 L570.1,804.5 L571.3,803.0 L572.6,801.5 L573.8,799.9 L575.0,798.4 L576.2,796.8 L577.5,795.3 L578.7,793.7 L579.9,792.2 L581.1,790.6 L582.3,789.1 L583.5,787.5 L584.7,786.0 L585.9,784.4 L587.1,782.9 L588.3,781.3 L589.5,779.8 L590.7,778.2 L591.9,776.7 L593.1,775.1 L594.2,773.6 L595.4,772.0 L596.6,770.5 L597.8,768.9 L599.0,767.4 L600.2,765.8 L601.3,764.3 L602.5,762.7 L603.7,761.2 L604.9,759.6 L606.0,758.1 L607.2,756.6 L608.4,755.0 L609.6,753.5 L610.7,752.0 L611.9,750.4 L613.1,748.9 L614.3,747.4 L615.4,745.8 L616.6,744.3 L617.8,742.8 L619.0,741.2 L620.1,739.7 L621.3,738.2 L622.5,736.7 L623.7,735.1 L624.9,733.6 L626.0,732.1 L627.2,730.6 L628.4,729.0 L629.6,727.5 L630.8,726.0 L631.9,724.4 L633.1,722.9 L634.3,721.4 L635.5,719.8 L636.7,718.3 L637.9,716.8 L639.0,715.2 L640.2,713.7 L641.4,712.1 L642.6,710.6 L643.8,709.0 L644.9,707.5 L646.1,705.9 L647.3,704.4 L648.5,702.8 L649.7,701.2 L650.8,699.7 L652.0,698.1 L653.2,696.5 L654.4,695.0 L655.6,693.4 L656.7,691.8 L657.9,690.2 L659.1,688.6 L660.3,687.0 L661.4,685.5 L662.6,683.9 L663.8,682.3 L665.0,680.7 L666.1,679.1 L667.3,677.5 L668.5,675.9 L669.7,674.2 L670.8,672.6 L672.0,671.0 L673.2,669.4 L674.3,667.8 L675.5,666.2 L676.6,664.5 L677.8,662.9 L679.0,661.3 L680.1,659.7 L681.3,658.0 L682.4,656.4 L683.6,654.8 L684.7,653.1 L685.9,651.5 L687.0,649.9 L688.2,648.2 L689.3,646.6 L690.5,644.9 L691.6,643.3 L692.7,641.6 L693.9,640.0 L695.0,638.3 L696.2,636.7 L697.3,635.0 L698.4,633.4 L699.6,631.7 L700.7,630.1 L701.8,628.4 L703.0,626.8 L704.1,625.1 L705.2,623.5 L706.3,621.8 L707.5,620.2 L708.6,618.5 L709.7,616.9 L710.8,615.2 L712.0,613.6 L713.1,611.9 L714.2,610.3 L715.3,608.6 L716.4,607.0 L717.6,605.3 L718.7,603.7 L719.8,602.0 L721.0,600.4 L722.1,598.7 L723.2,597.1 L724.3,595.5 L725.5,593.8 L726.6,592.2 L727.7,590.6 L728.9,588.9 L730.0,587.3 L731.1,585.6 L732.3,584.0 L733.4,582.4 L734.6,580.8 L735.7,579.1 L736.9,577.5 L738.0,575.9 L739.2,574.3 L740.3,572.6 L741.5,571.0 L742.6,569.4 L743.8,567.8 L744.9,566.2 L746.1,564.5 L747.3,562.9 L748.4,561.3 L749.6,559.7 L750.8,558.1 L751.9,556.5 L753.1,554.9 L754.3,553.3 L755.5,551.7 L756.6,550.1 L757.8,548.5 L759.0,546.9 L760.2,545.3 L761.4,543.7 L762.5,542.1 L763.7,540.5 L764.9,538.9 L766.1,537.3 L767.3,535.7 L768.5,534.1 L769.7,532.5 L770.9,530.9 L772.1,529.3 L773.3,527.7 L774.5,526.1 L775.7,524.5 L776.9,522.9 L778.1,521.3 L779.3,519.8 L780.5,518.2 L781.7,516.6 L782.9,515.0 L784.1,513.4 L785.3,511.8 L786.5,510.2 L787.7,508.6 L788.9,507.1 L790.2,505.5 L791.4,503.9 L792.6,502.3 L793.8,500.7 L795.0,499.1 L796.2,497.6 L797.5,496.0 L798.7,494.4 L799.9,492.8 L801.1,491.2 L802.4,489.7 L803.6,488.1 L804.8,486.5 L806.1,484.9 L807.3,483.4 L808.5,481.8 L809.8,480.2 L811.0,478.6 L812.2,477.1 L813.5,475.5 L814.7,473.9 L816.0,472.4 L817.2,470.8 L818.4,469.2 L819.7,467.7 L820.9,466.1 L822.2,464.5 L823.4,463.0 L824.7,461.4 L826.0,459.9 L827.2,458.3 L828.5,456.7 L829.7,455.2 L831.0,453.6 L832.3,452.1 L833.5,450.5 L834.8,449.0 L836.1,447.4 L837.3,445.9 L838.6,444.3 L839.9,442.8 L841.2,441.2 L842.4,439.7 L843.7,438.2 L845.0,436.6 L846.3,435.1 L847.6,433.5 L848.9,432.0 L850.1,430.5 L851.4,428.9 L852.7,427.4 L854.0,425.9 L855.3,424.4 L856.6,422.8 L857.9,421.3 L859.2,419.8 L860.5,418.3 L861.8,416.8 L863.2,415.2 L864.5,413.7 L865.8,412.2 L867.1,410.7 L868.4,409.2 L869.7,407.7 L871.1,406.2 L872.4,404.7 L873.7,403.2 L875.0,401.7 L876.4,400.2 L877.7,398.7 L879.0,397.2 L880.4,395.7 L881.7,394.2 L883.0,392.7 L884.4,391.3 L885.7,389.8 L887.1,388.3 L888.4,386.8 L889.8,385.3 L891.1,383.9 L892.5,382.4 L893.8,380.9 L895.2,379.4 L896.6,378.0 L897.9,376.5 L899.3,375.1 L900.7,373.6 L902.0,372.1 L903.4,370.7 L904.8,369.2 L906.2,367.8 L907.5,366.3 L908.9,364.9 L910.3,363.4 L911.7,362.0 L913.1,360.6 L914.5,359.1 L915.9,357.7 L917.3,356.3 L918.7,354.8 L920.1,353.4 L921.5,352.0 L922.9,350.6 L924.3,349.1 L925.7,347.7 L927.1,346.3 L928.5,344.9 L929.9,343.5 L931.3,342.1 L932.8,340.7 L934.2,339.3 L935.6,337.9 L937.0,336.5 L938.5,335.1 L939.9,333.7 L941.4,332.4 L942.8,331.0 L944.3,329.6 L945.7,328.2 L947.2,326.9 L948.6,325.5 L950.1,324.1 L951.5,322.8 L953.0,321.4 L954.5,320.1 L956.0,318.7 L957.4,317.4 L958.9,316.1 L960.4,314.7 L961.9,313.4 L963.4,312.1 L964.9,310.8 L966.4,309.5 L967.9,308.1 L969.5,306.8 L971.0,305.5 L972.5,304.3 L974.0,303.0 L975.6,301.7 L977.1,300.4 L978.7,299.1 L980.2,297.9 L981.8,296.6 L983.3,295.4 L984.9,294.1 L986.5,292.9 L988.0,291.6 L989.6,290.4 L991.2,289.2 L992.8,288.0 L994.4,286.8 L996.0,285.6 L997.6,284.4 L999.2,283.2 L1000.9,282.0 L1002.5,280.8 L1004.1,279.7 L1005.8,278.5 L1007.4,277.4 L1009.1,276.3 L1010.8,275.1 L1012.4,274.0 L1014.1,272.9 L1015.8,271.8 L1017.5,270.7 L1019.2,269.6 L1020.9,268.6 L1022.6,267.5 L1024.3,266.5 L1026.0,265.4 L1027.8,264.4 L1029.5,263.4 L1031.3,262.4 L1033.0,261.4 L1034.8,260.4 L1036.5,259.5 L1038.3,258.5 L1040.1,257.6 L1041.9,256.7 L1043.7,255.8 L1045.5,254.9 L1047.3,254.0 L1049.1,253.1 L1050.9,252.3 L1052.8,251.4 L1054.6,250.6 L1056.4,249.8 L1058.3,249.0 L1060.2,248.3 L1062.0,247.5 L1063.9,246.8 L1065.8,246.1 L1067.7,245.4 L1069.5,244.7 L1071.4,244.1 L1073.3,243.4 L1075.3,242.8 L1077.2,242.2 L1079.1,241.6 L1081.0,241.1 L1082.9,240.5 L1084.9,240.0 L1086.8,239.5 L1088.8,239.1 L1090.7,238.6 L1092.7,238.2 L1094.6,237.8 L1096.6,237.4 L1098.5,237.0 L1100.5,236.7 L1102.5,236.4 L1104.5,236.1 L1106.4,235.9 L1108.4,235.6 L1110.4,235.4 L1112.4,235.2 L1114.4,235.1 L1116.3,234.9 L1118.3,234.8 L1120.3,234.7 L1122.3,234.7 L1124.3,234.7 L1126.3,234.7 L1128.2,234.7 L1130.2,234.7 L1132.2,234.8 L1134.2,234.9 L1136.2,235.0 L1138.1,235.2 L1140.1,235.4 L1142.1,235.6 L1144.1,235.8 L1146.0,236.1 L1148.0,236.4 L1149.9,236.7 L1151.9,237.0 L1153.8,237.4 L1155.8,237.8 L1157.7,238.2 L1159.7,238.7 L1161.6,239.1 L1163.5,239.6 L1165.4,240.2 L1167.3,240.7 L1169.2,241.3 L1171.1,241.9 L1173.0,242.5 L1174.9,243.2 L1176.8,243.8 L1178.7,244.5 L1180.5,245.3 L1182.4,246.0 L1184.2,246.8 L1186.1,247.5 L1187.9,248.4 L1189.7,249.2 L1191.5,250.0 L1193.3,250.9 L1195.1,251.8 L1196.9,252.7 L1198.7,253.6 L1200.4,254.6 L1202.2,255.6 L1203.9,256.5 L1205.7,257.6 L1207.4,258.6 L1209.1,259.6 L1210.8,260.7 L1212.5,261.8 L1214.2,262.9 L1215.8,264.0 L1217.5,265.1 L1219.2,266.2 L1220.8,267.4 L1222.4,268.6 L1224.0,269.8 L1225.6,271.0 L1227.2,272.2 L1228.8,273.5 L1230.4,274.7 L1231.9,276.0 L1233.5,277.3 L1235.0,278.6 L1236.5,279.9 L1238.0,281.2 L1239.5,282.5 L1241.0,283.9 L1242.5,285.3 L1243.9,286.6 L1245.4,288.0 L1246.8,289.4 L1248.2,290.8 L1249.6,292.3 L1251.0,293.7 L1252.4,295.2 L1253.8,296.6 L1255.1,298.1 L1256.5,299.6 L1257.8,301.1 L1259.1,302.6 L1260.4,304.1 L1261.7,305.6 L1263.0,307.2 L1264.2,308.7 L1265.5,310.3 L1266.7,311.8 L1268.0,313.4 L1269.2,315.0 L1270.4,316.6 L1271.6,318.2 L1272.8,319.8 L1273.9,321.4 L1275.1,323.1 L1276.2,324.7 L1277.4,326.4 L1278.5,328.0 L1279.6,329.7 L1280.7,331.3 L1281.8,333.0 L1282.9,334.7 L1283.9,336.4 L1285.0,338.1 L1286.0,339.8 L1287.0,341.5 L1288.1,343.2 L1289.1,345.0 L1290.1,346.7 L1291.1,348.4 L1292.0,350.2 L1293.0,351.9 L1294.0,353.7 L1294.9,355.4 L1295.9,357.2 L1296.8,359.0 L1297.7,360.8 L1298.6,362.5 L1299.6,364.3 L1300.5,366.1 L1301.3,367.9 L1302.2,369.7 L1303.1,371.5 L1304.0,373.3 L1304.8,375.1 L1305.7,376.9 L1306.6,378.7 L1307.4,380.6 L1308.2,382.4 L1309.1,384.2 L1309.9,386.0 L1310.7,387.9 L1311.5,389.7 L1312.4,391.5 L1313.2,393.4 L1314.0,395.2 L1314.8,397.0 L1315.6,398.9 L1316.3,400.7 L1317.1,402.6 L1317.9,404.4 L1318.7,406.2 L1319.5,408.1 L1320.2,409.9 L1321.0,411.8 L1321.8,413.7 L1322.5,415.5 L1323.3,417.4 L1324.0,419.2 L1324.8,421.1 L1325.5,422.9 L1326.2,424.8 L1327.0,426.7 L1327.7,428.5 L1328.4,430.4 L1329.2,432.3 L1329.9,434.1 L1330.6,436.0 L1331.3,437.9 L1332.0,439.7 L1332.7,441.6 L1333.4,443.5 L1334.1,445.3 L1334.8,447.2 L1335.5,449.1 L1336.2,451.0 L1336.9,452.8 L1337.6,454.7 L1338.3,456.6 L1338.9,458.5 L1339.6,460.4 L1340.3,462.3 L1340.9,464.1 L1341.6,466.0 L1342.2,467.9 L1342.9,469.8 L1343.5,471.7 L1344.2,473.6 L1344.8,475.5 L1345.4,477.4 L1346.1,479.3 L1346.7,481.2 L1347.3,483.1 L1347.9,485.0 L1348.5,486.9 L1349.1,488.8 L1349.7,490.7 L1350.3,492.6 L1350.9,494.5 L1351.5,496.4 L1352.1,498.3 L1352.7,500.2 L1353.3,502.1 L1353.8,504.0 L1354.4,506.0 L1355.0,507.9 L1355.5,509.8 L1356.1,511.7 L1356.7,513.6 L1357.2,515.5 L1357.8,517.5 L1358.3,519.4 L1358.9,521.3 L1359.4,523.2 L1359.9,525.2 L1360.5,527.1 L1361.0,529.0 L1361.5,531.0 L1362.0,532.9 L1362.6,534.8 L1363.1,536.7 L1363.6,538.7 L1364.1,540.6 L1364.6,542.6 L1365.1,544.5 L1365.6,546.4 L1366.1,548.4 L1366.6,550.3 L1367.1,552.2 L1367.5,554.2 L1368.0,556.1 L1368.5,558.1 L1369.0,560.0 L1369.5,562.0 L1369.9,563.9 L1370.4,565.9 L1370.9,567.8 L1371.3,569.8 L1371.8,571.7 L1372.2,573.6 L1372.7,575.6 L1373.1,577.6 L1373.6,579.5 L1374.0,581.5 L1374.5,583.4 L1374.9,585.4 L1375.3,587.3 L1375.8,589.3 L1376.2,591.2 L1376.6,593.2 L1377.0,595.1 L1377.5,597.1 L1377.9,599.1 L1378.3,601.0 L1378.7,603.0 L1379.1,604.9 L1379.5,606.9 L1379.9,608.9 L1380.3,610.8 L1380.7,612.8 L1381.1,614.7 L1381.5,616.7 L1381.9,618.7 L1382.3,620.6 L1382.7,622.6 L1383.0,624.6 L1383.4,626.5 L1383.8,628.5 L1384.2,630.5 L1384.5,632.4 L1384.9,634.4 L1385.3,636.4 L1385.6,638.3 L1386.0,640.3 L1386.3,642.3 L1386.7,644.3 L1387.0,646.2 L1387.4,648.2 L1387.7,650.2 L1388.1,652.1 L1388.4,654.1 L1388.8,656.1 L1389.1,658.1 L1389.4,660.0 L1389.8,662.0 L1390.1,664.0 L1390.4,666.0 L1390.7,667.9 L1391.1,669.9 L1391.4,671.9 L1391.7,673.9 L1392.0,675.8 L1392.3,677.8 L1392.6,679.8 L1392.9,681.8 L1393.2,683.8 L1393.5,685.7 L1393.8,687.7 L1394.1,689.7 L1394.4,691.7 L1394.7,693.7 L1395.0,695.6 L1395.3,697.6 L1395.5,699.6 L1395.8,701.6 L1396.1,703.6 L1396.4,705.5 L1396.6,707.5 L1396.9,709.5 L1397.2,711.5 L1397.4,713.5 L1397.7,715.5 L1398.0,717.4 L1398.2,719.4 L1398.5,721.4 L1398.7,723.4 L1399.0,725.4 L1399.2,727.4 L1399.5,729.4 L1399.7,731.3 L1400.0,733.3 L1400.2,735.3 L1400.4,737.3 L1400.7,739.3 L1400.9,741.3 L1401.1,743.3 L1401.4,745.3 L1401.6,747.3 L1401.8,749.2 L1402.0,751.2 L1402.3,753.2 L1402.5,755.2 L1402.7,757.2 L1402.9,759.2 L1403.1,761.2 L1403.3,763.2 L1403.5,765.2 L1403.7,767.2 L1403.9,769.1 L1404.1,771.1 L1404.3,773.1 L1404.5,775.1 L1404.7,777.1 L1404.9,779.1 L1405.1,781.1 L1405.3,783.1 L1405.5,785.1 L1405.7,787.1 L1405.9,789.1 L1406.1,791.1 L1406.2,793.1 L1406.4,795.1 L1406.6,797.0 L1406.8,799.0 L1407.0,801.0 L1407.1,803.0 L1407.3,805.0 L1407.5,807.0 L1407.6,809.0 L1407.8,811.0 L1408.0,813.0 L1408.1,815.0 L1408.3,817.0 L1408.5,819.0 L1408.6,821.0 L1408.8,823.0 L1408.9,825.0 L1409.1,827.0 L1409.2,829.0 L1409.4,831.0 L1409.5,833.0 L1409.7,835.0 L1409.8,837.0 L1410.0,839.0 L1410.1,841.0 L1410.3,843.0 L1410.4,844.9 L1410.5,846.9 L1410.7,848.9 L1410.8,850.9 L1410.9,852.9 L1411.1,854.9 L1411.2,856.9 L1411.3,858.9 L1411.5,860.9 L1411.6,862.9 L1411.7,864.9 L1411.8,866.9 L1412.0,868.9 L1412.1,870.9 L1412.2,872.9 L1412.3,874.9 L1412.4,876.9 L1412.6,878.9 L1412.7,880.9 L1412.8,882.9 L1412.9,884.9 L1413.0,886.9 L1413.1,888.9 L1413.2,890.9 L1413.3,892.9 L1413.4,894.9 L1413.6,896.9 L1413.7,898.9 L1413.8,900.9 L1413.9,902.9 L1414.0,904.9 L1414.1,906.9 L1414.2,908.9 L1414.3,910.9 L1414.4,912.9 L1414.5,914.9 L1414.5,916.9 L1414.6,918.9 L1414.7,920.9 L1414.8,922.9 L1414.9,924.9 L1415.0,926.9 L1415.1,928.9 L1415.2,930.9 L1415.3,932.9 L1415.4,934.9 L1415.4,936.9 L1415.5,938.9 L1415.6,940.9 L1415.7,942.9 L1415.8,944.9 L1415.8,946.9 L1415.9,948.9 L1416.0,950.9 L1416.1,952.9 L1416.1,954.9 L1416.2,956.9 L1416.3,958.9 L1416.3,960.9 L1416.4,962.9 L1416.5,964.9 L1416.6,966.9 L1416.6,968.9 L1416.7,970.9 L1416.7,972.9 L1416.8,974.9 L1416.9,976.9 L1416.9,978.9 L1417.0,980.9 L1417.0,982.9 L1417.1,984.9 L1417.2,986.9 L1417.2,988.9 L1417.3,990.9 L1417.3,992.9 L1417.4,994.9 L1417.4,996.9 L1417.5,998.9 L1417.5,1000.9 L1417.6,1002.9 L1417.6,1004.9 L1417.7,1006.9 L1417.7,1008.9 L1417.7,1010.9 L1417.8,1012.9 L1417.8,1014.9 L1417.9,1016.9 L1417.9,1018.9 L1417.9,1020.9 L1418.0,1022.9 L1418.0,1024.9 L1418.0,1026.9 L1418.1,1028.9 L1418.1,1030.9 L1418.1,1032.9 L1418.2,1034.9 L1418.2,1036.9 L1418.2,1038.9 L1418.3,1040.9 L1418.3,1042.9 L1418.3,1044.9 L1418.3,1046.9 L1418.4,1048.9 L1418.4,1050.9 L1418.4,1052.9 L1418.4,1054.9 L1418.5,1056.9 L1418.5,1058.9 L1418.5,1060.9 L1418.5,1062.9 L1418.5,1064.9 L1418.5,1066.9 L1418.6,1068.9 L1418.6,1070.9 L1418.6,1072.9 L1418.6,1074.9 L1418.6,1076.9 L1418.6,1078.9 L1418.6,1080.9 L1418.6,1082.9 L1418.6,1084.9 L1418.7,1086.9 L1418.7,1089.0 L1418.7,1091.0 L1418.7,1093.0 L1418.7,1095.0 L1418.7,1097.0 L1418.7,1099.0 L1418.7,1101.0 L1418.7,1103.0 L1418.7,1105.0 L1418.7,1107.0 L1418.7,1109.0 L1418.7,1111.0 L1418.7,1113.0 L1418.7,1115.0 L1418.7,1117.0 L1418.6,1119.0 L1418.6,1121.0 L1418.6,1123.0 L1418.6,1125.0 L1418.6,1127.0 L1418.6,1129.0 L1418.6,1129.0 L1418.6,1127.0 L1418.6,1125.0 L1418.6,1122.9 L1418.6,1120.9 L1418.7,1118.9 L1418.7,1116.9 L1418.7,1114.9 L1418.8,1112.8 L1418.9,1110.8 L1418.9,1108.8 L1419.0,1106.8 L1419.1,1104.8 L1419.2,1102.7 L1419.3,1100.7 L1419.4,1098.7 L1419.5,1096.7 L1419.7,1094.7 L1419.8,1092.7 L1419.9,1090.6 L1420.1,1088.6 L1420.2,1086.6 L1420.4,1084.6 L1420.6,1082.6 L1420.7,1080.6 L1420.9,1078.6 L1421.1,1076.5 L1421.3,1074.5 L1421.5,1072.5 L1421.7,1070.5 L1421.9,1068.5 L1422.1,1066.5 L1422.3,1064.5 L1422.6,1062.5 L1422.8,1060.5 L1423.0,1058.5 L1423.3,1056.5 L1423.5,1054.5 L1423.8,1052.5 L1424.1,1050.5 L1424.3,1048.5 L1424.6,1046.5 L1424.9,1044.6 L1425.1,1042.6 L1425.4,1040.6 L1425.7,1038.6 L1426.0,1036.6 L1426.3,1034.7 L1426.7,1032.7 L1427.0,1030.7 L1427.3,1028.8 L1427.7,1026.8 L1428.1,1024.8 L1428.5,1022.9 L1429.0,1020.9 L1429.4,1018.9 L1429.9,1017.0 L1430.4,1015.0 L1430.9,1013.1 L1431.5,1011.1 L1432.1,1009.2 L1432.7,1007.2 L1433.4,1005.3 L1434.1,1003.3 L1434.8,1001.4 L1435.6,999.4 L1436.4,997.5 L1437.3,995.5 L1438.2,993.6 L1439.1,991.7 L1440.1,989.7 L1441.2,987.8 L1442.3,986.0 L1443.4,984.1 L1444.6,982.3 L1445.8,980.6 L1447.1,978.9 L1448.5,977.3 L1449.9,975.8 L1451.4,974.4 L1452.9,973.1 L1454.5,971.9 L1456.1,970.8 L1457.8,969.9 L1459.5,969.1 L1461.2,968.4 L1463.0,967.9 L1464.7,967.5 L1466.5,967.3 L1468.3,967.3 L1470.0,967.4 L1471.7,967.7 L1473.5,968.2 L1475.1,968.8 L1476.8,969.5 L1478.5,970.4 L1480.1,971.3 L1481.7,972.4 L1483.2,973.7 L1484.8,975.0 L1486.2,976.4 L1487.7,977.8 L1489.1,979.4 L1490.5,981.0 L1491.8,982.7 L1493.1,984.4 L1494.3,986.2 L1495.5,987.9 L1496.6,989.8 L1497.7,991.6 L1498.7,993.4 L1499.7,995.3 L1500.6,997.2 L1501.5,999.0 L1502.3,1000.9 L1503.1,1002.8 L1503.9,1004.8 L1504.6,1006.7 L1505.3,1008.6 L1505.9,1010.5 L1506.5,1012.5 L1507.1,1014.4 L1507.7,1016.4 L1508.2,1018.3 L1508.7,1020.3 L1509.2,1022.3 L1509.7,1024.2 L1510.1,1026.2 L1510.6,1028.2 L1511.0,1030.2 L1511.4,1032.1 L1511.8,1034.1 L1512.3,1036.1 L1512.7,1038.0 L1513.1,1040.0 L1513.5,1042.0 L1513.9,1044.0 L1514.3,1045.9 L1514.6,1047.9 L1515.0,1049.9 L1515.4,1051.8 L1515.7,1053.8 L1516.1,1055.8 L1516.4,1057.7 L1516.7,1059.7 L1517.1,1061.7 L1517.4,1063.7 L1517.6,1065.6 L1517.9,1067.6 L1518.2,1069.6 L1518.4,1071.6 L1518.6,1073.6 L1518.8,1075.6 L1519.0,1077.6 L1519.1,1079.6 L1519.3,1081.6 L1519.4,1083.6 L1519.5,1085.6 L1519.6,1087.6 L1519.6,1089.6 L1519.6,1091.6 L1519.6,1093.7 L1519.6,1095.7 L1519.5,1097.8 L1519.4,1099.8 L1519.3,1101.9 L1519.2,1103.9 L1519.0,1106.0 L1519.0,1106.0 L1519.1,1103.9 L1519.2,1101.8 L1519.3,1099.7 L1519.4,1097.6 L1519.5,1095.5 L1519.7,1093.5 L1519.8,1091.4 L1520.0,1089.4 L1520.2,1087.4 L1520.4,1085.4 L1520.6,1083.4 L1520.8,1081.4 L1521.0,1079.4 L1521.3,1077.4 L1521.5,1075.5 L1521.8,1073.5 L1522.1,1071.5 L1522.4,1069.6 L1522.7,1067.6 L1523.0,1065.7 L1523.3,1063.7 L1523.6,1061.8 L1524.0,1059.9 L1524.4,1057.9 L1524.7,1056.0 L1525.1,1054.0 L1525.5,1052.1 L1525.9,1050.1 L1526.4,1048.2 L1526.8,1046.2 L1527.2,1044.3 L1527.7,1042.3 L1528.2,1040.3 L1528.6,1038.3 L1529.1,1036.4 L1529.6,1034.4 L1530.1,1032.3 L1530.7,1030.3 L1531.2,1028.3 L1531.8,1026.3 L1532.3,1024.2 L1532.9,1022.1 L1533.5,1020.1 L1534.1,1018.0 L1534.7,1015.9 L1535.3,1013.8 L1536.0,1011.8 L1536.7,1009.8 L1537.5,1007.8 L1538.3,1005.8 L1539.1,1003.9 L1540.0,1002.1 L1541.0,1000.3 L1542.0,998.5 L1543.1,996.9 L1544.2,995.3 L1545.5,993.7 L1546.8,992.3 L1548.1,991.0 L1549.6,989.8 L1551.1,988.6 L1552.8,987.6 L1554.5,986.7 L1556.3,986.0 L1558.2,985.3 L1560.1,984.8 L1562.1,984.5 L1564.1,984.3 L1566.0,984.2 L1567.9,984.3 L1569.8,984.5 L1571.6,984.9 L1573.4,985.4 L1575.2,986.0 L1576.9,986.8 L1578.6,987.7 L1580.2,988.7 L1581.8,989.8 L1583.4,991.0 L1584.9,992.3 L1586.3,993.7 L1587.7,995.2 L1589.1,996.7 L1590.5,998.3 L1591.7,1000.0 L1593.0,1001.7 L1594.2,1003.5 L1595.4,1005.4 L1596.5,1007.2 L1597.6,1009.1 L1598.6,1011.1 L1599.6,1013.0 L1600.6,1015.0 L1601.5,1017.0 L1602.3,1018.9 L1603.2,1020.9 L1604.0,1022.9 L1604.7,1024.8 L1605.4,1026.8 L1606.1,1028.7 L1606.7,1030.6 L1607.3,1032.6 L1607.9,1034.5 L1608.4,1036.5 L1608.9,1038.4 L1609.4,1040.3 L1609.9,1042.3 L1610.3,1044.2 L1610.7,1046.1 L1611.1,1048.1 L1611.4,1050.0 L1611.8,1051.9 L1612.1,1053.9 L1612.4,1055.8 L1612.7,1057.8 L1613.0,1059.7 L1613.3,1061.7 L1613.5,1063.6 L1613.8,1065.6 L1614.0,1067.6 L1614.3,1069.5 L1614.5,1071.5 L1614.8,1073.5 L1615.0,1075.5 L1615.2,1077.5 L1615.5,1079.5 L1615.7,1081.5 L1615.9,1083.6 L1616.2,1085.6 L1616.5,1087.7 L1616.7,1089.7 L1617.0,1091.8 L1617.3,1093.9 L1617.6,1096.0 L1617.6,1096.0 L1617.8,1094.0 L1618.0,1092.0 L1618.2,1089.9 L1618.4,1087.9 L1618.7,1085.9 L1619.0,1083.9 L1619.3,1081.9 L1619.6,1079.9 L1619.9,1077.9 L1620.3,1075.9 L1620.6,1073.9 L1621.0,1071.9 L1621.4,1069.9 L1621.8,1067.9 L1622.3,1065.9 L1622.7,1063.9 L1623.2,1061.9 L1623.7,1059.9 L1624.2,1057.9 L1624.8,1055.9 L1625.3,1053.9 L1625.9,1052.0 L1626.5,1050.0 L1627.1,1048.0 L1627.8,1046.0 L1628.5,1044.1 L1629.1,1042.1 L1629.8,1040.2 L1630.6,1038.2 L1631.3,1036.3 L1632.1,1034.3 L1632.9,1032.4 L1633.7,1030.4 L1634.5,1028.5 L1635.4,1026.6 L1636.3,1024.7 L1637.2,1022.8 L1638.1,1020.8 L1639.0,1018.9 L1640.0,1017.0 L1641.0,1015.2 L1642.0,1013.3 L1643.1,1011.5 L1644.2,1009.7 L1645.3,1008.0 L1646.4,1006.3 L1647.6,1004.6 L1648.9,1003.0 L1650.2,1001.5 L1651.5,1000.0 L1652.9,998.6 L1654.3,997.3 L1655.8,996.0 L1657.3,994.9 L1658.9,993.8 L1660.5,992.8 L1662.2,992.0 L1663.9,991.2 L1665.7,990.6 L1667.6,990.1 L1669.6,989.7 L1671.6,989.4 L1673.6,989.3 L1675.8,989.3 L1678.0,989.5" stroke="#000" stroke-width="7.2"/>
<line x1="371.2" y1="950.8" x2="371.2" y2="1008.3" stroke="#ff0000" stroke-width="5.2"/>
<line x1="358.6" y1="950.8" x2="383.8" y2="950.8" stroke="#ff0000" stroke-width="5"/>
<line x1="358.6" y1="1008.3" x2="383.8" y2="1008.3" stroke="#ff0000" stroke-width="5"/>
<line x1="516.0" y1="740.3" x2="516.0" y2="885.2" stroke="#ff0000" stroke-width="5.2"/>
<line x1="503.4" y1="740.3" x2="528.6" y2="740.3" stroke="#ff0000" stroke-width="5"/>
<line x1="503.4" y1="885.2" x2="528.6" y2="885.2" stroke="#ff0000" stroke-width="5"/>
<line x1="661.1" y1="588.4" x2="661.1" y2="682.9" stroke="#ff0000" stroke-width="5.2"/>
<line x1="648.5" y1="588.4" x2="673.7" y2="588.4" stroke="#ff0000" stroke-width="5"/>
<line x1="648.5" y1="682.9" x2="673.7" y2="682.9" stroke="#ff0000" stroke-width="5"/>
<line x1="805.5" y1="400.8" x2="805.5" y2="482.0" stroke="#ff0000" stroke-width="5.2"/>
<line x1="792.9" y1="400.8" x2="818.1" y2="400.8" stroke="#ff0000" stroke-width="5"/>
<line x1="792.9" y1="482.0" x2="818.1" y2="482.0" stroke="#ff0000" stroke-width="5"/>
<line x1="950.8" y1="220.5" x2="950.8" y2="278.6" stroke="#ff0000" stroke-width="5.2"/>
<line x1="938.2" y1="220.5" x2="963.4" y2="220.5" stroke="#ff0000" stroke-width="5"/>
<line x1="938.2" y1="278.6" x2="963.4" y2="278.6" stroke="#ff0000" stroke-width="5"/>
<line x1="1095.8" y1="97.9" x2="1095.8" y2="229.6" stroke="#ff0000" stroke-width="5.2"/>
<line x1="1083.2" y1="97.9" x2="1108.4" y2="97.9" stroke="#ff0000" stroke-width="5"/>
<line x1="1083.2" y1="229.6" x2="1108.4" y2="229.6" stroke="#ff0000" stroke-width="5"/>
<line x1="1240.4" y1="279.8" x2="1240.4" y2="344.6" stroke="#ff0000" stroke-width="5.2"/>
<line x1="1227.8" y1="279.8" x2="1253.0" y2="279.8" stroke="#ff0000" stroke-width="5"/>
<line x1="1227.8" y1="344.6" x2="1253.0" y2="344.6" stroke="#ff0000" stroke-width="5"/>
<line x1="1385.0" y1="609.1" x2="1385.0" y2="731.0" stroke="#ff0000" stroke-width="5.2"/>
<line x1="1372.4" y1="609.1" x2="1397.6" y2="609.1" stroke="#ff0000" stroke-width="5"/>
<line x1="1372.4" y1="731.0" x2="1397.6" y2="731.0" stroke="#ff0000" stroke-width="5"/>
<line x1="1529.0" y1="997.5" x2="1529.0" y2="1081.0" stroke="#ff0000" stroke-width="5.2"/>
<line x1="1516.4" y1="997.5" x2="1541.6" y2="997.5" stroke="#ff0000" stroke-width="5"/>
<line x1="1516.4" y1="1081.0" x2="1541.6" y2="1081.0" stroke="#ff0000" stroke-width="5"/>
<line x1="1674.0" y1="1012.7" x2="1674.0" y2="1050.0" stroke="#ff0000" stroke-width="5.2"/>
<line x1="1661.4" y1="1012.7" x2="1686.6" y2="1012.7" stroke="#ff0000" stroke-width="5"/>
<line x1="1661.4" y1="1050.0" x2="1686.6" y2="1050.0" stroke="#ff0000" stroke-width="5"/>
</g>
<g font-family="'Liberation Serif', serif" font-size="71" fill="#000"><text x="226.7" y="1207" text-anchor="middle">0</text><text x="433.5" y="1207" text-anchor="middle">5</text><text x="640.2" y="1207" text-anchor="middle">10</text><text x="847.0" y="1207" text-anchor="middle">15</text><text x="1053.7" y="1207" text-anchor="middle">20</text><text x="1260.5" y="1207" text-anchor="middle">25</text><text x="1467.2" y="1207" text-anchor="middle">30</text><text x="1674.0" y="1207" text-anchor="middle">35</text><text x="205" y="1152.3" text-anchor="end">0</text><text x="205" y="998.2" text-anchor="end">10</text><text x="205" y="844.0" text-anchor="end">20</text><text x="205" y="689.9" text-anchor="end">30</text><text x="205" y="535.7" text-anchor="end">40</text><text x="205" y="381.6" text-anchor="end">50</text><text x="205" y="227.4" text-anchor="end">60</text><text x="205" y="73.3" text-anchor="end">70</text></g>
<text x="842.5" y="1301" font-family="'Liberation Serif', serif" font-size="71">Time/μs</text>
<text transform="translate(74.8,788.7) rotate(-90)" font-family="'Liberation Serif', serif" font-size="71">Radius <tspan font-style="italic">R</tspan>/μm</text>
<line x1="613.5" y1="849.2" x2="738" y2="849.2" stroke="#ff0000" stroke-width="7.2" stroke-linecap="round"/>
<line x1="613.5" y1="935.3" x2="738" y2="935.3" stroke="#000" stroke-width="7.2" stroke-linecap="round"/>
<g font-family="'Liberation Serif', serif" font-size="71" fill="#000"><text x="754.7" y="868">Experimental results</text><text x="755.7" y="954.2">Theoretical results</text></g>
</svg></body></html>
